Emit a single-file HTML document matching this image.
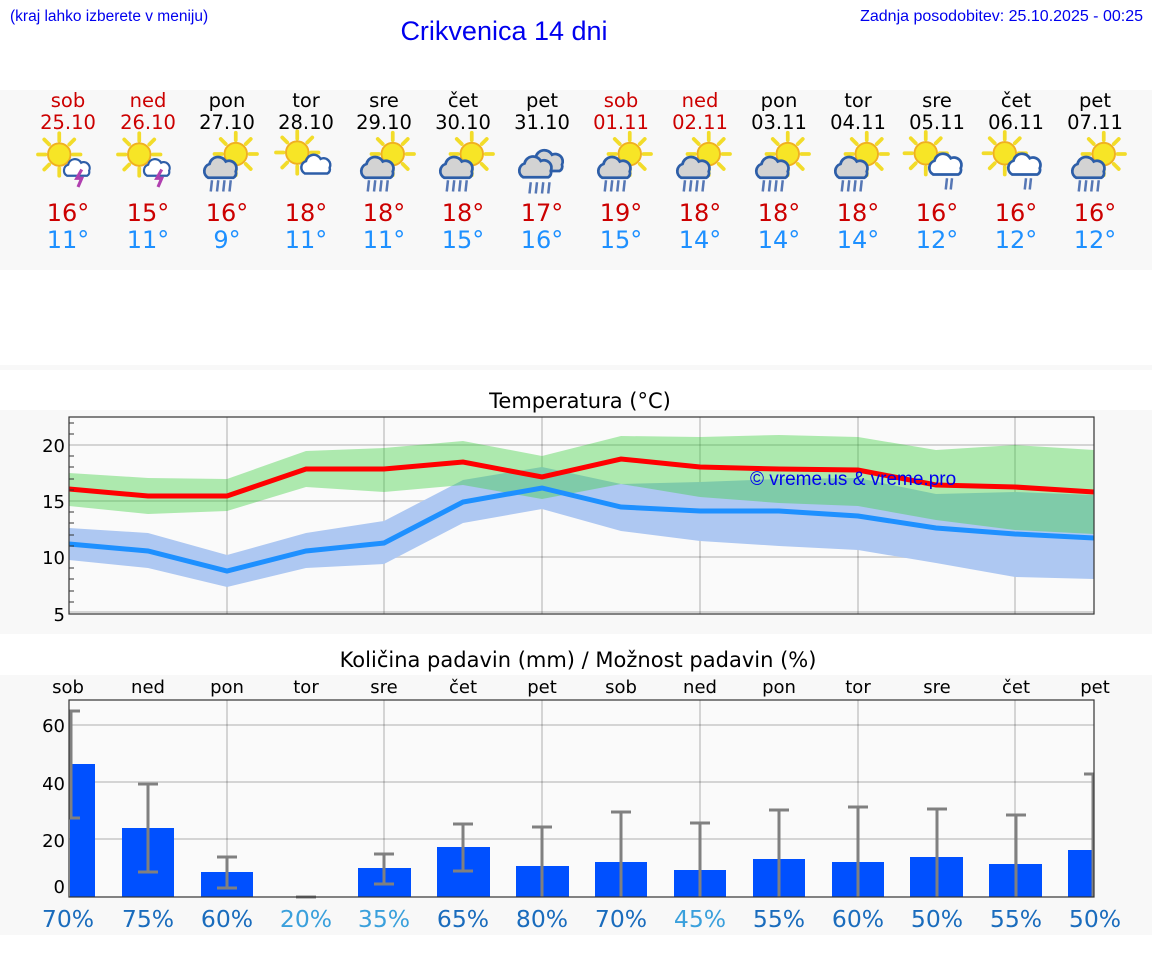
<!DOCTYPE html>
<html><head><meta charset="utf-8"><style>
html,body{margin:0;padding:0;background:#fff;}
svg{display:block;font-family:"DejaVu Sans","Liberation Sans",sans-serif;}
</style></head><body>
<svg width="1152" height="975" viewBox="0 0 1152 975" xmlns="http://www.w3.org/2000/svg">
<defs>
<g id="sun"><g stroke="#f2dc2a" stroke-width="3" stroke-linecap="round"><line x1="0" y1="-11" x2="0" y2="-17"/><line x1="0" y1="11" x2="0" y2="17"/><line x1="-11" y1="0" x2="-17" y2="0"/><line x1="11" y1="0" x2="17" y2="0"/><line x1="8" y1="8" x2="12" y2="12"/><line x1="-8" y1="-8" x2="-12" y2="-12"/><line x1="8" y1="-8" x2="12" y2="-12"/><line x1="-8" y1="8" x2="-12" y2="12"/></g><circle r="9" fill="#f7e526" stroke="#f0b020" stroke-width="1.5"/></g>
<path id="cl" d="M-11,7 a6,6 0 0 1 1,-11 a7,7 0 0 1 13,-2 a6,6 0 0 1 8,8 a4,4 0 0 1 -2,5 z" stroke="#2d5ea8" stroke-width="2.2"/>
<g id="rain" stroke="#5677b5" stroke-width="2"><line x1="-6" y1="0" x2="-7" y2="9"/><line x1="-1" y1="0" x2="-2" y2="9"/><line x1="4" y1="0" x2="3" y2="9"/><line x1="9" y1="0" x2="8" y2="9"/></g>
<g id="i_th"><use href="#sun" x="-7" y="-6"/><use href="#cl" x="9" y="6" fill="#fff" transform="translate(4.5 3) scale(0.8) translate(-4.5 -3)"/><path d="M11,6 l-4,7 h4 l-3,7" stroke="#b040b0" stroke-width="2.5" fill="none"/></g>
<g id="i_rs"><use href="#sun" x="7" y="-8"/><use href="#cl" x="-4" y="4" fill="#d3d3d3"/><use href="#rain" x="-6" y="13"/></g>
<g id="i_sc"><use href="#sun" x="-7" y="-6"/><use href="#cl" x="10" y="5" fill="#fff" transform="scale(0.9)"/></g>
<g id="i_cr"><use href="#cl" x="5" y="-3" fill="#d3d3d3"/><use href="#cl" x="-4" y="2" fill="#d3d3d3"/><use href="#rain" x="-3" y="13"/></g>
<g id="i_lr"><use href="#sun" x="-9" y="-7"/><use href="#cl" x="8" y="3" fill="#fff"/><g stroke="#5677b5" stroke-width="2"><line x1="8" y1="13" x2="7" y2="22"/><line x1="12" y1="13" x2="11" y2="22"/></g></g>
</defs>

<text x="10" y="21" font-size="15.5" fill="#0000ee" font-family="Liberation Sans,sans-serif">(kraj lahko izberete v meniju)</text>
<text x="504" y="40" font-size="27" fill="#0000ee" text-anchor="middle" font-family="Liberation Sans,sans-serif">Crikvenica 14 dni</text>
<text x="1143" y="21" font-size="16" fill="#0000ee" text-anchor="end" font-family="Liberation Sans,sans-serif">Zadnja posodobitev: 25.10.2025 - 00:25</text>

<rect x="0" y="90" width="1152" height="180" fill="#f8f8f8"/>
<rect x="0" y="365" width="1152" height="5" fill="#f8f8f8"/>

<g font-size="19.5" text-anchor="middle">
<g fill="#cc0000"><text x="68" y="107">sob</text><text x="148" y="107">ned</text><text x="621" y="107">sob</text><text x="700" y="107">ned</text>
<text x="68" y="129">25.10</text><text x="148" y="129">26.10</text><text x="621" y="129">01.11</text><text x="700" y="129">02.11</text></g>
<g fill="#000"><text x="227" y="107">pon</text><text x="306" y="107">tor</text><text x="384" y="107">sre</text><text x="463" y="107">čet</text><text x="542" y="107">pet</text><text x="779" y="107">pon</text><text x="858" y="107">tor</text><text x="937" y="107">sre</text><text x="1016" y="107">čet</text><text x="1095" y="107">pet</text>
<text x="227" y="129">27.10</text><text x="306" y="129">28.10</text><text x="384" y="129">29.10</text><text x="463" y="129">30.10</text><text x="542" y="129">31.10</text><text x="779" y="129">03.11</text><text x="858" y="129">04.11</text><text x="937" y="129">05.11</text><text x="1016" y="129">06.11</text><text x="1095" y="129">07.11</text></g>
</g>

<g transform="translate(68 162) scale(1.25)"><use href="#i_th"/></g>
<g transform="translate(148 162) scale(1.25)"><use href="#i_th"/></g>
<g transform="translate(227 164) scale(1.25)"><use href="#i_rs"/></g>
<g transform="translate(306 160) scale(1.25)"><use href="#i_sc"/></g>
<g transform="translate(384 164) scale(1.25)"><use href="#i_rs"/></g>
<g transform="translate(463 164) scale(1.25)"><use href="#i_rs"/></g>
<g transform="translate(542 166) scale(1.25)"><use href="#i_cr"/></g>
<g transform="translate(621 164) scale(1.25)"><use href="#i_rs"/></g>
<g transform="translate(700 164) scale(1.25)"><use href="#i_rs"/></g>
<g transform="translate(779 164) scale(1.25)"><use href="#i_rs"/></g>
<g transform="translate(858 164) scale(1.25)"><use href="#i_rs"/></g>
<g transform="translate(937 162) scale(1.25)"><use href="#i_lr"/></g>
<g transform="translate(1016 162) scale(1.25)"><use href="#i_lr"/></g>
<g transform="translate(1095 164) scale(1.25)"><use href="#i_rs"/></g>

<g font-size="24" text-anchor="middle">
<g fill="#cc0000"><text x="68" y="221">16°</text><text x="148" y="221">15°</text><text x="227" y="221">16°</text><text x="306" y="221">18°</text><text x="384" y="221">18°</text><text x="463" y="221">18°</text><text x="542" y="221">17°</text><text x="621" y="221">19°</text><text x="700" y="221">18°</text><text x="779" y="221">18°</text><text x="858" y="221">18°</text><text x="937" y="221">16°</text><text x="1016" y="221">16°</text><text x="1095" y="221">16°</text></g>
<g fill="#1e90ff"><text x="68" y="248">11°</text><text x="148" y="248">11°</text><text x="227" y="248">9°</text><text x="306" y="248">11°</text><text x="384" y="248">11°</text><text x="463" y="248">15°</text><text x="542" y="248">16°</text><text x="621" y="248">15°</text><text x="700" y="248">14°</text><text x="779" y="248">14°</text><text x="858" y="248">14°</text><text x="937" y="248">12°</text><text x="1016" y="248">12°</text><text x="1095" y="248">12°</text></g>
</g>

<!-- Temperature chart -->
<rect x="0" y="410" width="1152" height="224" fill="#f8f8f8"/>
<text x="580" y="408" font-size="21" text-anchor="middle">Temperatura (°C)</text>
<rect x="69" y="417" width="1025" height="197" fill="#fafafa"/>
<g stroke="#000" stroke-opacity="0.15" stroke-width="2">
<line x1="69" y1="445" x2="1094" y2="445"/><line x1="69" y1="501" x2="1094" y2="501"/><line x1="69" y1="557" x2="1094" y2="557"/><line x1="69" y1="612" x2="1094" y2="612"/>
<line x1="227" y1="417" x2="227" y2="614"/><line x1="384" y1="417" x2="384" y2="614"/><line x1="542" y1="417" x2="542" y2="614"/><line x1="700" y1="417" x2="700" y2="614"/><line x1="858" y1="417" x2="858" y2="614"/><line x1="1015" y1="417" x2="1015" y2="614"/>
</g>
<polygon fill="#aec8f2" points="69,528 148,533 227,555 306,533 384,521 463,480 542,467 621,484 700,482 779,479 858,478 936,494 1015,492 1094,495 1094,579 1015,577 936,563 858,550 779,546 700,541 621,531 542,509 463,523 384,564 306,568 227,587 148,568 69,560"/>
<polygon fill="#39cf3c" fill-opacity="0.4" points="69,473 148,478 227,479 306,451 384,448 463,441 542,456 621,436 700,437 779,435 858,437 936,450 1015,445 1094,450 1094,534 1015,530 936,520 858,506 779,503 700,497 621,484 542,499 463,485 384,492 306,487 227,511 148,514 69,506"/>
<polyline fill="none" stroke="#1e90ff" stroke-width="5" points="69,544 148,551 227,571 306,551 384,543 463,502 542,488 621,507 700,511 779,511 858,516 936,528 1015,534 1094,538"/>
<polyline fill="none" stroke="#ff0000" stroke-width="5" points="69,489 148,496 227,496 306,469 384,469 463,462 542,477 621,459 700,467 779,469 858,470 936,485 1015,487 1094,492"/>
<text x="750" y="485" font-size="19" fill="#0000ee" font-family="Liberation Sans,sans-serif">© vreme.us &amp; vreme.pro</text>
<rect x="69" y="417" width="1025" height="197" fill="none" stroke="#333" stroke-width="1.2"/>
<g stroke="#333" stroke-width="1">
<line x1="69" y1="423" x2="74" y2="423"/><line x1="69" y1="434" x2="74" y2="434"/><line x1="69" y1="456" x2="74" y2="456"/><line x1="69" y1="467" x2="74" y2="467"/><line x1="69" y1="479" x2="74" y2="479"/><line x1="69" y1="490" x2="74" y2="490"/><line x1="69" y1="512" x2="74" y2="512"/><line x1="69" y1="523" x2="74" y2="523"/><line x1="69" y1="535" x2="74" y2="535"/><line x1="69" y1="546" x2="74" y2="546"/><line x1="69" y1="568" x2="74" y2="568"/><line x1="69" y1="579" x2="74" y2="579"/><line x1="69" y1="591" x2="74" y2="591"/><line x1="69" y1="602" x2="74" y2="602"/>
</g>
<g font-size="18" text-anchor="end"><text x="65" y="452">20</text><text x="65" y="508">15</text><text x="65" y="564">10</text><text x="65" y="621">5</text></g>

<!-- Precip chart -->
<rect x="0" y="675" width="1152" height="260" fill="#f8f8f8"/>
<text x="578" y="667" font-size="21" text-anchor="middle">Količina padavin (mm) / Možnost padavin (%)</text>
<g font-size="18" text-anchor="middle"><text x="68" y="693">sob</text><text x="148" y="693">ned</text><text x="227" y="693">pon</text><text x="306" y="693">tor</text><text x="384" y="693">sre</text><text x="463" y="693">čet</text><text x="542" y="693">pet</text><text x="621" y="693">sob</text><text x="700" y="693">ned</text><text x="779" y="693">pon</text><text x="858" y="693">tor</text><text x="937" y="693">sre</text><text x="1016" y="693">čet</text><text x="1095" y="693">pet</text></g>
<rect x="69" y="700" width="1025" height="197" fill="#fafafa"/>
<g stroke="#000" stroke-opacity="0.15" stroke-width="2">
<line x1="69" y1="725" x2="1094" y2="725"/><line x1="69" y1="782" x2="1094" y2="782"/><line x1="69" y1="839" x2="1094" y2="839"/>
<line x1="227" y1="700" x2="227" y2="897"/><line x1="384" y1="700" x2="384" y2="897"/><line x1="542" y1="700" x2="542" y2="897"/><line x1="700" y1="700" x2="700" y2="897"/><line x1="858" y1="700" x2="858" y2="897"/><line x1="1015" y1="700" x2="1015" y2="897"/>
</g>
<g fill="#0050ff">
<rect x="70" y="764" width="25" height="133"/><rect x="122" y="828" width="52" height="69"/><rect x="201" y="872" width="52" height="25"/>
<rect x="358" y="868" width="53" height="29"/><rect x="437" y="847" width="53" height="50"/><rect x="516" y="866" width="53" height="31"/><rect x="595" y="862" width="52" height="35"/><rect x="674" y="870" width="52" height="27"/><rect x="753" y="859" width="52" height="38"/><rect x="832" y="862" width="52" height="35"/><rect x="910" y="857" width="53" height="40"/><rect x="989" y="864" width="53" height="33"/><rect x="1068" y="850" width="26" height="47"/>
</g>
<g stroke="#808080" stroke-width="3" fill="none">
<path d="M71,711 V818 M69,711 h11 M69,818 h11"/>
<path d="M148,784 V872 M138,784 h20 M138,872 h20"/>
<path d="M227,857 V888 M217,857 h20 M217,888 h20"/>
<path d="M296,897 h20"/>
<path d="M384,854 V884 M374,854 h20 M374,884 h20"/>
<path d="M463,824 V871 M453,824 h20 M453,871 h20"/>
<path d="M542,827 V897 M532,827 h20"/>
<path d="M621,812 V897 M611,812 h20"/>
<path d="M700,823 V897 M690,823 h20"/>
<path d="M779,810 V897 M769,810 h20"/>
<path d="M858,807 V897 M848,807 h20"/>
<path d="M937,809 V897 M927,809 h20"/>
<path d="M1016,815 V897 M1006,815 h20"/>
<path d="M1093,774 V897 M1084,774 h10"/>
</g>
<rect x="69" y="700" width="1025" height="197" fill="none" stroke="#333" stroke-width="1.2"/>
<g font-size="18" text-anchor="end"><text x="65" y="732">60</text><text x="65" y="790">40</text><text x="65" y="847">20</text><text x="65" y="893">0</text></g>
<g font-size="23.5" text-anchor="middle">
<g fill="#1a6cbd"><text x="68" y="927">70%</text><text x="148" y="927">75%</text><text x="227" y="927">60%</text><text x="463" y="927">65%</text><text x="542" y="927">80%</text><text x="621" y="927">70%</text><text x="779" y="927">55%</text><text x="858" y="927">60%</text><text x="937" y="927">50%</text><text x="1016" y="927">55%</text><text x="1095" y="927">50%</text></g>
<g fill="#3aa0dc"><text x="306" y="927">20%</text><text x="384" y="927">35%</text><text x="700" y="927">45%</text></g>
</g>
</svg>
</body></html>
